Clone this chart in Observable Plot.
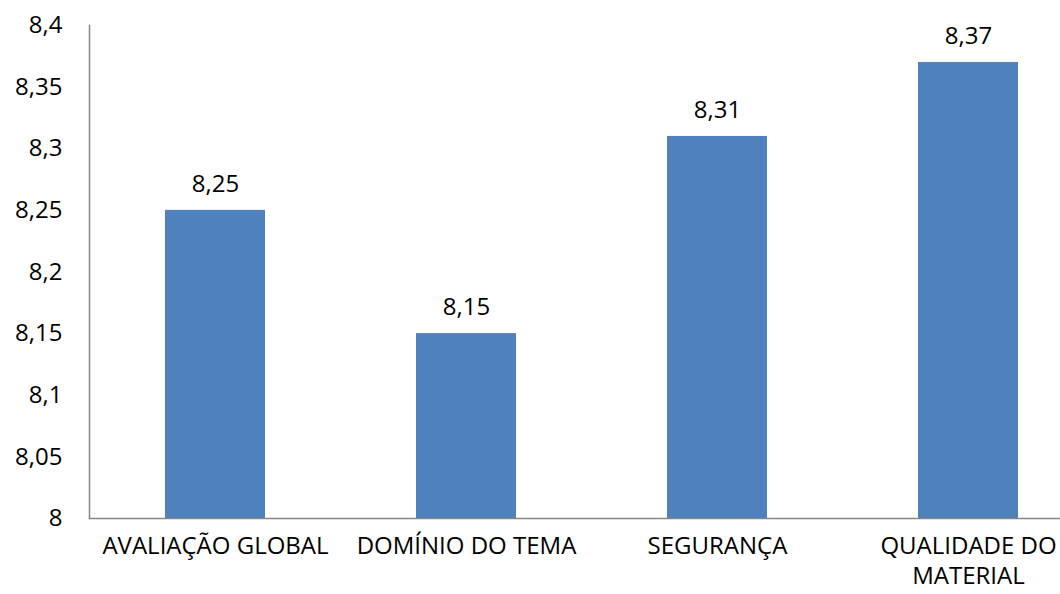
<!DOCTYPE html>
<html>
<head>
<meta charset="utf-8">
<script src="https://cdn.jsdelivr.net/npm/d3@7"></script>
<script src="https://cdn.jsdelivr.net/npm/@observablehq/plot@0.6"></script>
<style>
  html, body { margin: 0; padding: 0; background: #fff; overflow: hidden; }
  #chart svg { display: block; overflow: visible; }
</style>
</head>
<body>
<div id="chart"></div>
<script>
const categories = ["AVALIAÇÃO GLOBAL", "DOMÍNIO DO TEMA", "SEGURANÇA", "QUALIDADE DO MATERIAL"];
const tickLabels = ["AVALIAÇÃO GLOBAL", "DOMÍNIO DO TEMA", "SEGURANÇA", "QUALIDADE DO\nMATERIAL"];
const values = [8.25, 8.15, 8.31, 8.37];
const yTicks = [8, 8.05, 8.1, 8.15, 8.2, 8.25, 8.3, 8.35, 8.4];

const data = categories.map((c, i) => ({category: c, value: values[i]}));
const fmt = d => String(+d.toFixed(2)).replace(".", ",");
const labelOf = new Map(categories.map((c, i) => [c, tickLabels[i]]));

const chart = Plot.plot({
  width: 1060,
  height: 594,
  marginLeft: 89,
  marginTop: 25,
  marginBottom: 76,
  marginRight: 0,
  style: {fontFamily: "'Open Sans', 'Noto Sans', sans-serif", fontSize: "24px", color: "#000", background: "#fff", overflow: "visible"},
  x: {domain: categories, range: [89, 1094], paddingInner: 0.6, paddingOuter: 0.3, label: null},
  y: {domain: [8, 8.4], range: [518, 25], label: null},
  marks: [
    Plot.barY(data, {x: "category", y1: 8, y2: "value", fill: "#4F81BD"}),
    Plot.text(data, {x: "category", y: "value", text: d => fmt(d.value), dy: -26, fontSize: 24, fill: "#000"}),
    Plot.axisY({ticks: yTicks, tickSize: 0, tickPadding: 27, tickFormat: fmt, fontSize: 24, fill: "#000"}),
    Plot.axisX({tickSize: 0, tickPadding: 14, tickFormat: d => labelOf.get(d), fontSize: 24, lineHeight: 1.25, fill: "#000"}),
    Plot.frame({anchor: "left", stroke: "#868686", strokeWidth: 1.5}),
    Plot.frame({anchor: "bottom", stroke: "#868686", strokeWidth: 1.5})
  ]
});
document.getElementById("chart").appendChild(chart);
</script>
</body>
</html>
